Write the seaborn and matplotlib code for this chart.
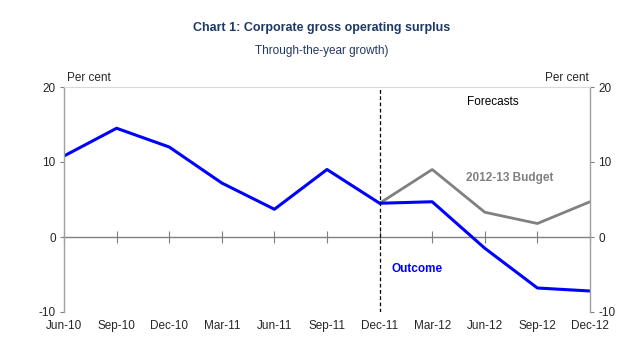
import matplotlib
matplotlib.use("Agg")
import matplotlib.pyplot as plt
import seaborn as sns
import pandas as pd

quarters = ["Jun-10", "Sep-10", "Dec-10", "Mar-11", "Jun-11", "Sep-11",
            "Dec-11", "Mar-12", "Jun-12", "Sep-12", "Dec-12"]
outcome = [10.8, 14.5, 12.0, 7.2, 3.7, 9.0, 4.5, 4.7, -1.5, -6.8, -7.2]
budget_quarters = ["Dec-11", "Mar-12", "Jun-12", "Sep-12", "Dec-12"]
budget = [4.5, 9.0, 3.3, 1.8, 4.7]
yticks = [-10, 0, 10, 20]

sns.set_theme(style="white")
plt.rcParams["font.family"] = ["Liberation Sans", "DejaVu Sans"]
plt.rcParams["axes.unicode_minus"] = False

pos = {q: i for i, q in enumerate(quarters)}
df_out = pd.DataFrame({"x": [pos[q] for q in quarters], "y": outcome})
df_bud = pd.DataFrame({"x": [pos[q] for q in budget_quarters], "y": budget})

fig = plt.figure(figsize=(6.43, 3.44), dpi=100)
ax = fig.add_axes([64 / 643, 32 / 344, 526 / 643, 225 / 344])

sns.lineplot(data=df_bud, x="x", y="y", ax=ax, color="#808080", linewidth=2)
sns.lineplot(data=df_out, x="x", y="y", ax=ax, color="#0000FF", linewidth=2.2)

ax.set_xlim(0, len(quarters) - 1)
ax.set_ylim(-10, 20)
ax.set_yticks(yticks)
ax.set_xticks(range(len(quarters)))
ax.set_xticklabels(quarters, fontsize=8.5)
ax.set_xlabel("")
ax.set_ylabel("")
ax.tick_params(axis="x", length=0, pad=6)
ax.tick_params(axis="y", length=3, width=0.8, color="#808080", labelsize=8.5,
               left=True, right=True, labelright=True, direction="out", pad=3)

for s in ["left", "right"]:
    ax.spines[s].set_color("#A0A0A0")
    ax.spines[s].set_linewidth(1.0)
ax.spines["top"].set_color("#D9D9D9")
ax.spines["top"].set_linewidth(0.8)
ax.spines["bottom"].set_visible(False)

# zero axis with crossing ticks
sec = ax.secondary_xaxis(1 / 3)
sec.set_xticks(range(len(quarters)))
sec.set_xticklabels([])
sec.tick_params(axis="x", direction="inout", length=9, width=0.8, color="#808080")
sec.spines["bottom"].set_color("#808080")
sec.spines["bottom"].set_linewidth(1.0)
sec.spines["top"].set_visible(False)

ax.axvline(pos["Dec-11"], color="black", linestyle=(0, (3, 2)), linewidth=0.9)

ax.text(0.006, 1.015, "Per cent", transform=ax.transAxes, fontsize=8.5, ha="left", va="bottom")
ax.text(0.997, 1.015, "Per cent", transform=ax.transAxes, fontsize=8.5, ha="right", va="bottom")
ax.text(8.15, 18.0, "Forecasts", fontsize=8.5, ha="center", va="center", color="black")
ax.text(8.48, 7.8, "2012-13 Budget", fontsize=8.5, ha="center", va="center",
        color="#808080", fontweight="bold")
ax.text(6.71, -4.3, "Outcome", fontsize=8.5, ha="center", va="center",
        color="#0000FF", fontweight="bold")

fig.text(0.5, 1 - 28 / 344, "Chart 1: Corporate gross operating surplus", ha="center",
         va="center", fontsize=9, fontweight="bold", color="#1F3864")
fig.text(0.5, 1 - 51 / 344, "Through-the-year growth)", ha="center", va="center",
         fontsize=8.5, color="#1F3864")

fig.savefig("out.png", dpi=100)
